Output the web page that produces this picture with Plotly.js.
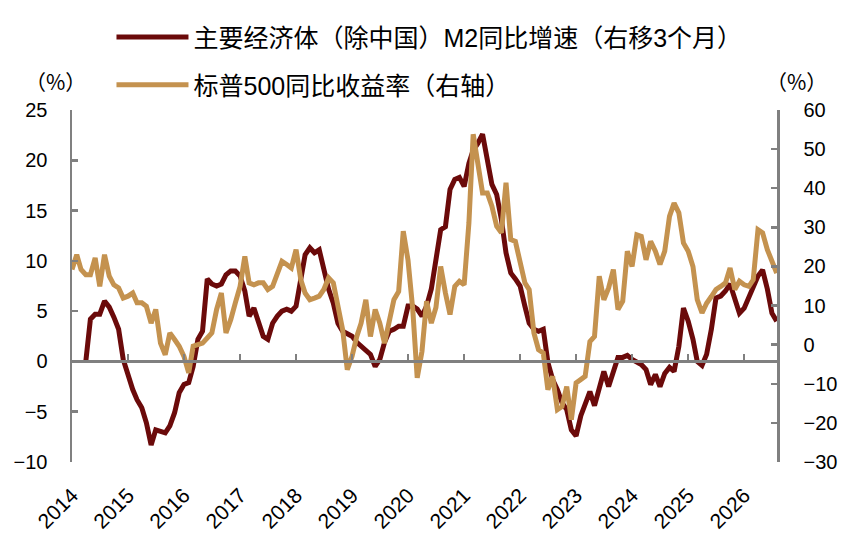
<!DOCTYPE html>
<html>
<head>
<meta charset="utf-8">
<script src="https://cdn.plot.ly/plotly-3.0.1.min.js"></script>
<style>
  body { margin: 0; background: #fff; }
  #chart { width: 852px; height: 539px; }
</style>
</head>
<body>
<div id="chart"></div>
<script>
/*** DATA ***/
// monthly, first S&P point is Jan 2014, first M2 point is Apr 2014 (already shifted 3 months)
const spStart = [2014, 1];
const m2Start = [2014, 4];

// 主要经济体（除中国）M2同比增速（右移3个月）, left axis, %
const m2Values = [
    0.0, 4.2, 4.7, 4.7, 6.0, 5.4, 4.4, 3.2, 0.2,
    -1.5, -2.8, -3.8, -4.6, -6.1, -8.3, -6.8, -6.9, -7.1, -6.4, -5.1, -3.1,
    -2.3, -2.1, -0.5, 2.2, 3.0, 8.2, 7.7, 7.5, 7.7, 8.6, 9.0, 9.0,
    8.5, 7.0, 4.5, 5.3, 4.0, 2.5, 2.2, 3.8, 4.5, 5.0, 5.2, 5.0,
    5.5, 8.2, 10.6, 11.3, 10.8, 11.1, 9.1, 7.2, 5.8, 3.8, 3.0, 2.7,
    2.5, 1.9, 1.5, 1.2, 0.7, -0.5, 0.2, 1.9, 3.0, 3.2, 3.5, 3.5,
    5.5, 5.5, 5.2, 4.5, 5.5, 7.2, 10.1, 13.1, 13.4, 17.1, 18.1, 18.3,
    17.4, 19.7, 21.0, 21.7, 22.6, 20.1, 17.6, 16.6, 14.1, 10.8, 8.8, 8.2,
    7.5, 5.5, 3.8, 3.2, 3.0, 3.2, -0.1, -1.8, -2.8, -4.1, -4.8, -6.8,
    -7.4, -5.4, -4.4, -3.0, -4.4, -2.8, -1.0, -2.5, -1.0, 0.4, 0.4, 0.6,
    0.2, 0.0, -0.3, -0.8, -2.3, -1.3, -2.5, -1.2, -0.6, -1.0, 1.5, 5.3,
    4.0, 2.2, 0.0, -0.4, 0.7, 3.2, 6.3, 6.5, 7.0, 7.7, 6.0, 4.8,
    5.3, 6.5, 7.5, 8.5, 9.1, 7.2, 4.8, 4.0
];

// 标普500同比收益率（右轴）, right axis, %
const spValues = [
    19.2, 23.0, 19.2, 17.9, 17.9, 22.2, 14.9, 23.0, 17.5, 15.3, 14.5, 11.9,
    12.4, 13.2, 10.7, 10.7, 9.8, 5.5, 9.0, 0.4, -2.6, 3.0, 1.3, -0.4,
    -3.0, -7.2, -0.4, 0.0, 0.4, 1.7, 3.0, 9.0, 13.2, 3.0, 6.4, 10.7,
    14.9, 22.6, 15.8, 15.3, 15.8, 15.8, 14.1, 14.9, 17.9, 21.3, 20.5, 19.6,
    24.3, 16.6, 13.2, 11.5, 11.9, 12.4, 14.1, 17.1, 15.8, 9.0, 3.8, -6.4,
    -3.0, 2.1, 5.5, 11.5, 2.1, 9.0, 5.5, 0.4, 6.4, 11.5, 13.6, 29.0,
    21.6, 9.0, -8.5, -1.7, 11.1, 5.5, 9.5, 20.0, 13.2, 7.7, 14.9, 16.2,
    15.3, 31.1, 53.8, 45.6, 38.8, 38.8, 35.4, 30.3, 28.6, 41.4, 26.9, 26.4,
    21.7, 15.8, 14.1, 3.0, -1.3, -2.1, -11.5, -8.1, -16.6, -15.8, -10.7, -19.2,
    -9.8, -9.0, -8.1, 0.8, 2.1, 17.5, 11.5, 14.5, 19.2, 9.0, 11.1, 23.9,
    20.0, 28.1, 27.7, 21.7, 26.4, 23.9, 20.5, 23.9, 32.8, 36.2, 33.7, 26.0,
    23.9, 20.0, 11.5, 8.1, 10.6, 12.3, 14.1, 14.9, 15.8, 19.6, 14.1, 16.2,
    15.3, 14.9, 16.6, 29.4, 28.6, 24.3, 21.3, 18.3
];

const yearLabels = ['2014', '2015', '2016', '2017', '2018', '2019', '2020',
    '2021', '2022', '2023', '2024', '2025', '2026'];

const m2Name = '主要经济体（除中国）M2同比增速（右移3个月）';
const spName = '标普500同比收益率（右轴）';

/*** HELPERS ***/
// month-start date strings for a monthly series
function monthDates(start, n) {
    const out = [];
    for (let i = 0; i < n; i++) {
        const t = (start[0] * 12 + start[1] - 1) + i;
        const y = Math.floor(t / 12);
        const m = (t % 12) + 1;
        out.push(y + '-' + (m < 10 ? '0' + m : m) + '-01');
    }
    return out;
}

const yearTicks = yearLabels.map(y => y + '-01-01');
const xRange = ['2014-01-01', '2026-08-03'];

const grey = '#808080';
const tickFont = { family: 'Liberation Sans, Arial, sans-serif', size: 20, color: '#000' };
const xTickFont = { family: 'Liberation Sans, Arial, sans-serif', size: 21, color: '#000' };
const legendFont = { family: 'Liberation Sans Narrow, Liberation Sans, Noto Sans CJK SC, sans-serif', size: 25, color: '#000' };
const unitFont = { family: 'Noto Sans CJK SC, sans-serif', size: 21, color: '#000' };

/*** TRACES ***/
const m2Trace = {
    x: monthDates(m2Start, m2Values.length),
    y: m2Values,
    name: m2Name,
    type: 'scatter',
    mode: 'lines',
    line: { color: '#6B0A0A', width: 5 },
    yaxis: 'y',
    legend: 'legend'
};

const spTrace = {
    x: monthDates(spStart, spValues.length),
    y: spValues,
    name: spName,
    type: 'scatter',
    mode: 'lines',
    line: { color: '#C4924F', width: 5 },
    yaxis: 'y2',
    legend: 'legend2'
};

/*** LAYOUT ***/
const layout = {
    width: 852,
    height: 539,
    margin: { l: 72, r: 75, t: 110, b: 77 },
    paper_bgcolor: '#fff',
    plot_bgcolor: '#fff',
    showlegend: true,
    // x axis line runs through 0 of the left scale, labels pushed down to the bottom
    xaxis: {
        type: 'date',
        range: xRange,
        anchor: 'free',
        position: 10 / 35,
        tickvals: yearTicks,
        ticktext: yearLabels,
        tickangle: -45,
        ticks: 'inside',
        ticklen: 6,
        tickwidth: 2.5,
        tickcolor: grey,
        showline: true,
        linecolor: grey,
        linewidth: 2.5,
        showgrid: false,
        zeroline: false,
        tickfont: xTickFont,
        ticklabelstandoff: 112
    },
    yaxis: {
        range: [-10, 25],
        dtick: 5,
        ticks: 'inside',
        ticklen: 6,
        tickwidth: 2.5,
        tickcolor: grey,
        showline: true,
        linecolor: grey,
        linewidth: 2.5,
        showgrid: false,
        zeroline: false,
        tickfont: tickFont,
        ticklabelstandoff: 18
    },
    yaxis2: {
        overlaying: 'y',
        side: 'right',
        range: [-30, 60],
        dtick: 10,
        ticks: 'inside',
        ticklen: 6,
        tickwidth: 2.5,
        tickcolor: grey,
        showline: true,
        linecolor: grey,
        linewidth: 2.5,
        showgrid: false,
        zeroline: false,
        tickfont: tickFont,
        ticklabelstandoff: 20
    },
    legend: {
        x: 0.056, y: 1.207, xanchor: 'left', yanchor: 'middle',
        font: legendFont, itemwidth: 72, bgcolor: 'rgba(0,0,0,0)'
    },
    legend2: {
        x: 0.056, y: 1.071, xanchor: 'left', yanchor: 'middle',
        font: legendFont, itemwidth: 72, bgcolor: 'rgba(0,0,0,0)'
    },
    annotations: [
        { text: '（%）', xref: 'paper', yref: 'paper', x: -0.023, y: 1.083,
          xanchor: 'center', yanchor: 'middle', showarrow: false, font: unitFont },
        { text: '（%）', xref: 'paper', yref: 'paper', x: 1.028, y: 1.083,
          xanchor: 'center', yanchor: 'middle', showarrow: false, font: unitFont }
    ]
};

Plotly.newPlot('chart', [m2Trace, spTrace], layout, { displayModeBar: false, staticPlot: true });
</script>
</body>
</html>
